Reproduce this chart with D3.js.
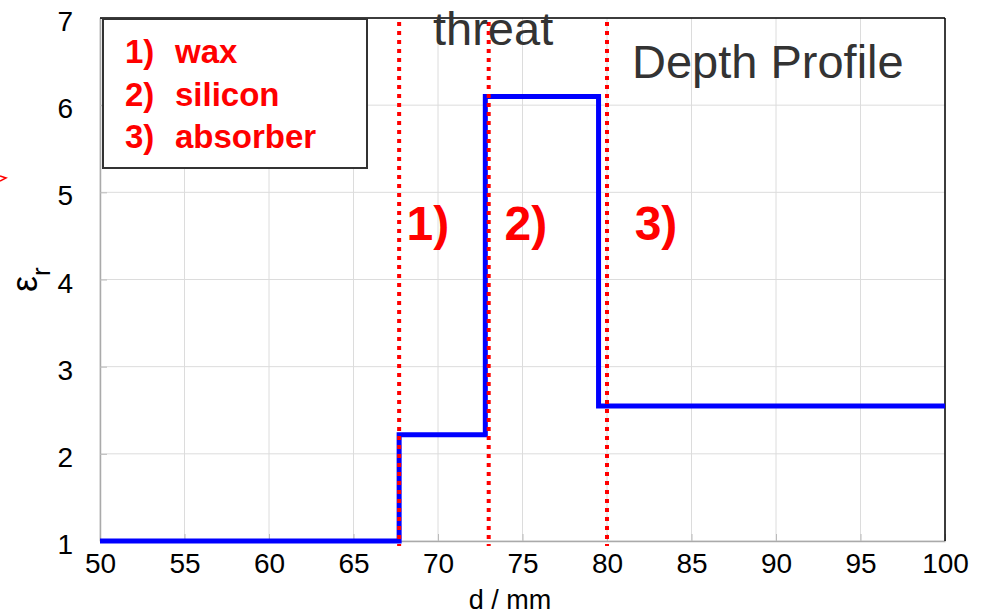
<!DOCTYPE html>
<html>
<head>
<meta charset="utf-8">
<script src="https://cdn.jsdelivr.net/npm/d3@7"></script>
<style>
  body { margin: 0; background: #fff; }
  svg { font-family: "Liberation Sans", Arial, sans-serif; }
</style>
</head>
<body>
<div class="canvas"></div>
<script>
// step profile: depth (mm) where each layer starts, and its permittivity
const stepX = [50, 67.7, 72.8, 79.5, 100];
const stepEps = [1, 2.22, 6.1, 2.55, 2.55];
// layer boundaries (red dotted markers)
const boundaries = [67.7, 73.0, 80.0];
const layerLabels = ['1)', '2)', '3)'];
const layerLabelX = [69.4, 75.2, 82.9];
const legendNums = ['1)', '2)', '3)'];
const legendNames = ['wax', 'silicon', 'absorber'];
const xTicks = [50, 55, 60, 65, 70, 75, 80, 85, 90, 95, 100];
const yTicks = [1, 2, 3, 4, 5, 6, 7];

const dims = { width: 987, height: 616 };
const margin = { left: 100, top: 18, right: 42, bottom: 75 };
const w = dims.width - margin.left - margin.right;
const h = dims.height - margin.top - margin.bottom;

const svg = d3.select('.canvas')
    .append('svg')
    .attr('width', dims.width)
    .attr('height', dims.height);

const graph = svg.append('g')
    .attr('transform', `translate(${margin.left}, ${margin.top})`);

const x = d3.scaleLinear().domain([50, 100]).range([0, w]);
const y = d3.scaleLinear().domain([1, 7]).range([h, 0]);

// grid
graph.append('g')
    .selectAll('line')
    .data(xTicks)
    .enter().append('line')
    .attr('x1', d => x(d)).attr('x2', d => x(d))
    .attr('y1', 0).attr('y2', h)
    .attr('stroke', '#dcdcdc').attr('stroke-width', 1);

graph.append('g')
    .selectAll('line')
    .data(yTicks)
    .enter().append('line')
    .attr('x1', 0).attr('x2', w)
    .attr('y1', d => y(d)).attr('y2', d => y(d))
    .attr('stroke', '#dcdcdc').attr('stroke-width', 1);

// axes
const xAxis = d3.axisBottom(x).tickValues(xTicks).tickFormat(d3.format('d'))
    .tickSizeInner(-7).tickSizeOuter(0).tickPadding(12);
const yAxis = d3.axisLeft(y).tickValues(yTicks).tickFormat(d3.format('d'))
    .tickSizeInner(-7).tickSizeOuter(0).tickPadding(27);

const gx = graph.append('g').attr('transform', `translate(0, ${h})`).call(xAxis);
const gy = graph.append('g').call(yAxis);

[gx, gy].forEach(g => {
    g.select('.domain').attr('stroke', '#aaa').attr('stroke-width', 1.5);
    g.selectAll('.tick line').attr('stroke', '#bbb');
    g.selectAll('text')
        .attr('font-size', 28)
        .attr('fill', '#000')
        .attr('font-family', '"Liberation Sans", Arial, sans-serif');
});
gy.selectAll('text').attr('dy', '0.45em');

// top and right frame
graph.append('line')
    .attr('x1', 0).attr('x2', w).attr('y1', 0).attr('y2', 0)
    .attr('stroke', '#000').attr('stroke-width', 1.5);
graph.append('line')
    .attr('x1', w).attr('x2', w).attr('y1', 0).attr('y2', h)
    .attr('stroke', '#000').attr('stroke-width', 1.5);

// axis titles
svg.append('text')
    .attr('x', 510).attr('y', 609)
    .attr('text-anchor', 'middle')
    .attr('font-size', 27)
    .text('d / mm');

const yl = svg.append('text')
    .attr('transform', 'translate(37, 292) rotate(-90)')
    .attr('font-size', 36);
yl.append('tspan').text('ε');
yl.append('tspan').attr('dy', 13).attr('font-size', 26).text('r');

// tiny red arrow tip at left edge
svg.append('path')
    .attr('d', 'M0,176 L6,178 L0,181')
    .attr('fill', 'none').attr('stroke', 'red').attr('stroke-width', 1.5);

// step line
const stepData = stepX.map((v, i) => ({ d: v, eps: stepEps[i] }));
const line = d3.line()
    .x(v => x(v.d))
    .y(v => y(v.eps))
    .curve(d3.curveStepAfter);

graph.append('path')
    .datum(stepData)
    .attr('d', line)
    .attr('fill', 'none')
    .attr('stroke', '#0000ff')
    .attr('stroke-width', 5)
    .attr('stroke-linejoin', 'miter');

// red dotted boundaries
graph.append('g')
    .selectAll('line')
    .data(boundaries)
    .enter().append('line')
    .attr('x1', d => x(d)).attr('x2', d => x(d))
    .attr('y1', 4).attr('y2', h + 5)
    .attr('stroke', '#ff0000')
    .attr('stroke-width', 4)
    .attr('stroke-dasharray', '4,5');

// layer labels
graph.append('g')
    .selectAll('text')
    .data(layerLabels)
    .enter().append('text')
    .attr('x', (d, i) => x(layerLabelX[i]))
    .attr('y', y(4.45))
    .attr('text-anchor', 'middle')
    .attr('font-size', 48)
    .attr('font-weight', 'bold')
    .attr('fill', '#ff0000')
    .text(d => d);

// legend box
const legend = svg.append('g').attr('transform', 'translate(103, 19)');
legend.append('rect')
    .attr('width', 264).attr('height', 149)
    .attr('fill', '#fff')
    .attr('stroke', '#333').attr('stroke-width', 2);
legend.selectAll('text.num')
    .data(legendNums)
    .enter().append('text')
    .attr('class', 'num')
    .attr('x', 22)
    .attr('y', (d, i) => 44 + i * 42.5)
    .attr('font-size', 33)
    .attr('font-weight', 'bold')
    .attr('fill', '#ff0000')
    .text(d => d);
legend.selectAll('text.name')
    .data(legendNames)
    .enter().append('text')
    .attr('class', 'name')
    .attr('x', 72)
    .attr('y', (d, i) => 44 + i * 42.5)
    .attr('font-size', 33)
    .attr('font-weight', 'bold')
    .attr('fill', '#ff0000')
    .text(d => d);

// annotations
svg.append('text')
    .attr('x', 433).attr('y', 45)
    .attr('font-size', 47)
    .attr('fill', '#333')
    .text('threat');

svg.append('text')
    .attr('x', 632).attr('y', 78)
    .attr('font-size', 47)
    .attr('fill', '#333')
    .text('Depth Profile');
</script>
</body>
</html>
